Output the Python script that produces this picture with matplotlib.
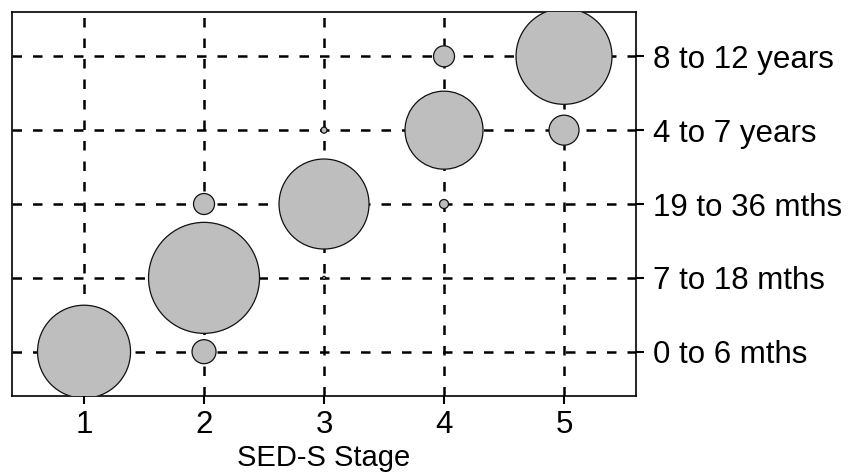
import matplotlib
matplotlib.use('Agg')
import matplotlib.pyplot as plt

plt.rcParams['font.family'] = ['Liberation Sans', 'DejaVu Sans']

stages = [1, 2, 3, 4, 5]
age_groups = ['0 to 6 mths', '7 to 18 mths', '19 to 36 mths', '4 to 7 years', '8 to 12 years']

# counts per (stage, age group)
stage_1 = [31, 0, 0, 0, 0]
stage_2 = [8, 37, 7, 0, 0]
stage_3 = [0, 1, 30, 2, 0]
stage_4 = [0, 0, 3, 26, 7]
stage_5 = [0, 0, 0, 10, 32]
counts = [stage_1, stage_2, stage_3, stage_4, stage_5]

fig = plt.figure(figsize=(8.48, 4.75), dpi=100)
ax = fig.add_axes([0.0142, 0.1663, 0.7358, 0.8084])

dash = (0, (3.8, 4.4))
for s in stages:
    ax.axvline(s, color='black', lw=1.8, ls=dash, zorder=1)
for j in range(len(age_groups)):
    ax.axhline(j + 1, color='black', lw=1.8, ls=dash, zorder=1)

xs, ys, sizes = [], [], []
for i, s in enumerate(stages):
    for j, c in enumerate(counts[i]):
        if c > 0:
            xs.append(s)
            ys.append(j + 1)
            sizes.append((2.16 * c) ** 2)

ax.scatter(xs, ys, s=sizes, facecolor='#bebebe', edgecolor='#111111',
           linewidth=0.9, zorder=3)

ax.set_xlim(0.4, 5.6)
ax.set_ylim(0.4, 5.6)
ax.set_xticks(stages)
ax.set_yticks(range(1, len(age_groups) + 1))
ax.set_yticklabels(age_groups)
ax.yaxis.tick_right()
ax.tick_params(axis='both', direction='out', length=6, width=1.5,
               labelsize=22.5, colors='black')
ax.tick_params(axis='x', pad=4)
ax.tick_params(axis='y', pad=6)
ax.set_xlabel('SED-S Stage', fontsize=21, labelpad=3)
for sp in ax.spines.values():
    sp.set_linewidth(1.2)

fig.savefig('out.png', dpi=100)
